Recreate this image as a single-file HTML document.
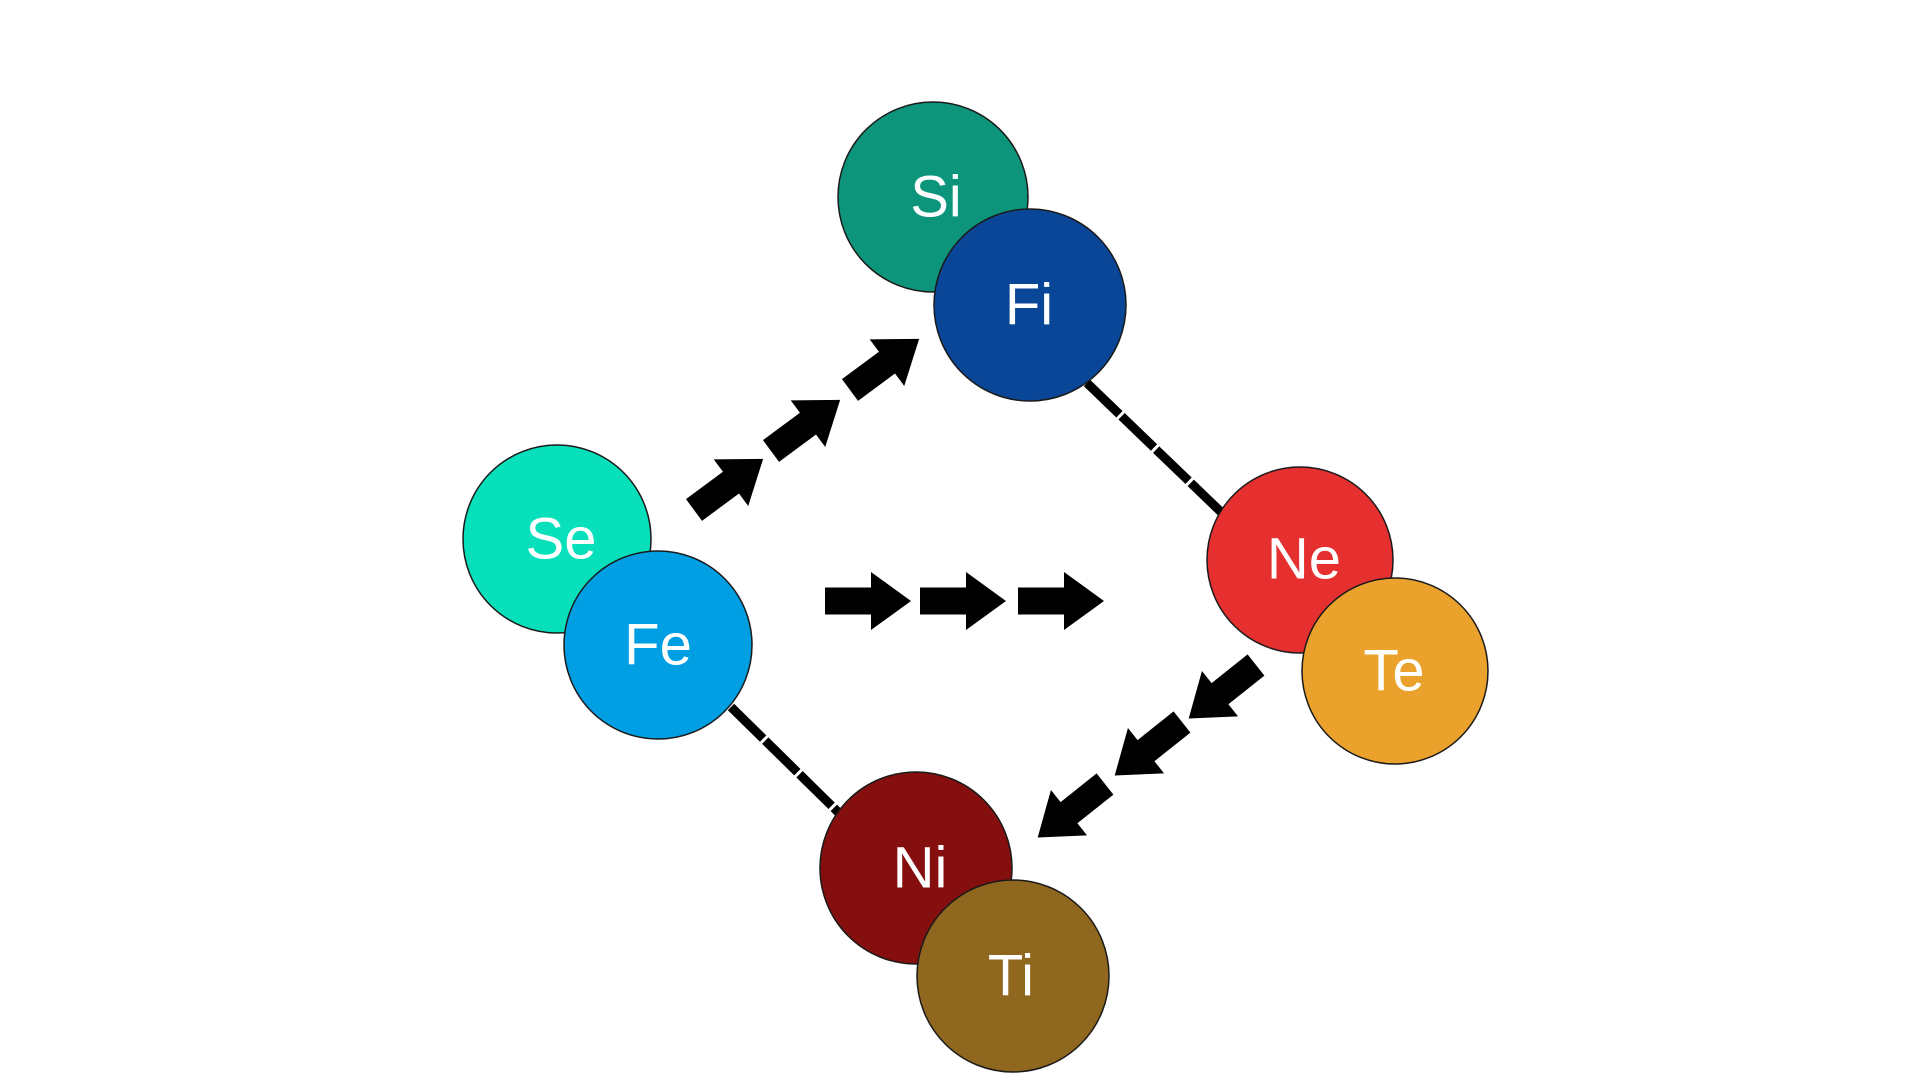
<!DOCTYPE html>
<html><head><meta charset="utf-8"><style>
html,body{margin:0;padding:0;background:#fff;width:1920px;height:1080px;overflow:hidden}
svg{display:block}
text{font-family:"Liberation Sans","DejaVu Sans",sans-serif;font-size:58px;fill:#fff;text-anchor:middle;dominant-baseline:central}
</style></head><body>
<svg width="1920" height="1080" viewBox="0 0 1920 1080">
<defs>
<path id="ar" d="M0,-13.5 L46,-13.5 L46,-29 L86,0 L46,29 L46,13.5 L0,13.5 Z" fill="#000"/>
</defs>
<line x1="1087" y1="383" x2="1221" y2="512" stroke="#000" stroke-width="9" stroke-dasharray="45 3"/>
<line x1="731" y1="707" x2="840" y2="814" stroke="#000" stroke-width="9" stroke-dasharray="45 3"/>
<use href="#ar" x="825" y="601"/>
<use href="#ar" x="920" y="601"/>
<use href="#ar" x="1018" y="601"/>
<g transform="translate(694,510) rotate(-36.5)"><use href="#ar"/></g>
<g transform="translate(771,451) rotate(-36.5)"><use href="#ar"/></g>
<g transform="translate(850,390) rotate(-36.5)"><use href="#ar"/></g>
<g transform="translate(1256,665) rotate(141.5)"><use href="#ar"/></g>
<g transform="translate(1182,722) rotate(141.5)"><use href="#ar"/></g>
<g transform="translate(1105,784) rotate(141.5)"><use href="#ar"/></g>
<g stroke="#1a1a1a" stroke-width="1.5">
<circle cx="933" cy="197" r="95" fill="#0c957a"/>
<circle cx="1030" cy="305" r="96" fill="#0a4697"/>
<circle cx="557" cy="539" r="94" fill="#08e0bc"/>
<circle cx="658" cy="645" r="94" fill="#009fe3"/>
<circle cx="1300" cy="560" r="93" fill="#e63030"/>
<circle cx="1395" cy="671" r="93" fill="#eaa22c"/>
<circle cx="916" cy="868" r="96" fill="#850f0f"/>
<circle cx="1013" cy="976" r="96" fill="#8f671e"/>
</g>
<text x="936" y="197">Si</text>
<text x="1029" y="305">Fi</text>
<text x="561" y="539">Se</text>
<text x="658" y="645">Fe</text>
<text x="1304" y="559">Ne</text>
<text x="1394" y="671">Te</text>
<text x="920" y="868">Ni</text>
<text x="1011" y="976">Ti</text>
</svg>
</body></html>
